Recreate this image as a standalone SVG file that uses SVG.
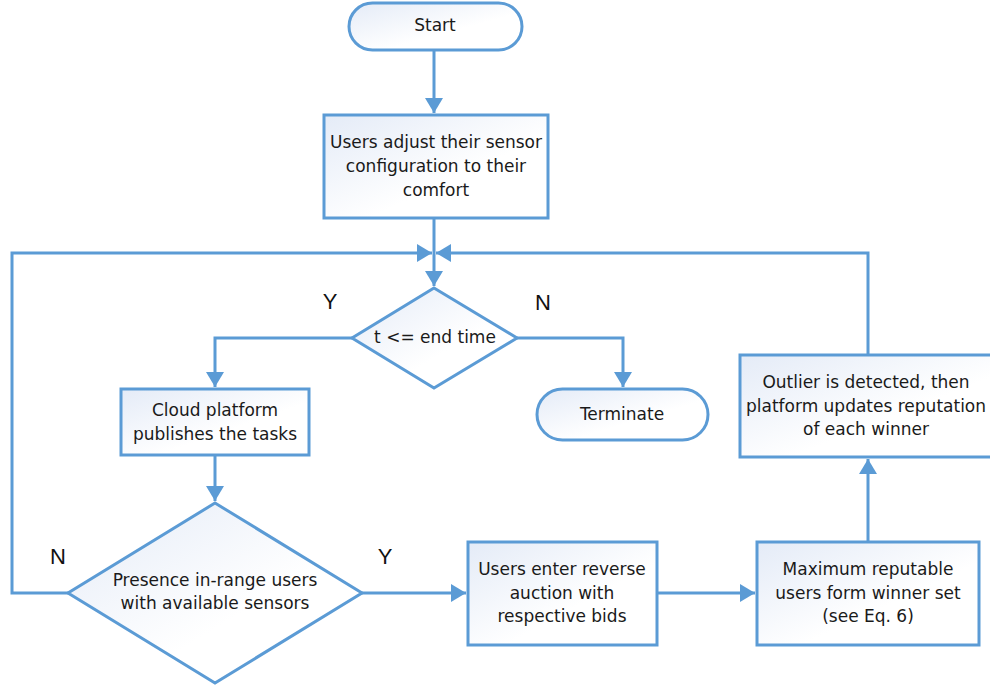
<svg xmlns="http://www.w3.org/2000/svg" width="990" height="685" viewBox="0 0 990 685">
<style>
.s{fill:url(#g);stroke:#5b9bd5;stroke-width:3}
.c{fill:none;stroke:#5b9bd5;stroke-width:3}
.t{font-family:"DejaVu Sans",Tahoma,sans-serif;font-size:17px;fill:#1a1a1a;text-anchor:middle}
.l{font-family:"Liberation Sans",Arial,sans-serif;font-size:22px;fill:#111;text-anchor:middle}
</style>
<defs>
<linearGradient id="g" x1="0" y1="0" x2="1" y2="1">
<stop offset="0" stop-color="#e4ebf7"/>
<stop offset="0.6" stop-color="#ffffff"/>
</linearGradient>
<marker id="a" markerWidth="6" markerHeight="6" refX="5" refY="3" orient="auto" markerUnits="strokeWidth">
<path d="M0,0 L5,3 L0,6 Z" fill="#5b9bd5"/>
</marker>
</defs>
<g id="connectors">
<path class="c" d="M434,50 V113" marker-end="url(#a)"/>
<path class="c" d="M434,218 V286" marker-end="url(#a)"/>
<path class="c" d="M68,593 H12 V253 H432" marker-end="url(#a)"/>
<path class="c" d="M868,355 V253 H436" marker-end="url(#a)"/>
<path class="c" d="M352,338 H215 V387" marker-end="url(#a)"/>
<path class="c" d="M517,338 H623 V387" marker-end="url(#a)"/>
<path class="c" d="M215,455 V501" marker-end="url(#a)"/>
<path class="c" d="M362,593 H466" marker-end="url(#a)"/>
<path class="c" d="M657,593 H755" marker-end="url(#a)"/>
<path class="c" d="M868,543 V459" marker-end="url(#a)"/>
</g>
<g id="labels">
<text class="l" x="330" y="309">Y</text>
<text class="l" x="543" y="310">N</text>
<text class="l" x="58" y="564">N</text>
<text class="l" x="385" y="564">Y</text>
</g>
<g id="start">
<rect class="s" x="349" y="3" width="173" height="47" rx="23.5"/>
<text class="t" x="435" y="31">Start</text>
</g>
<g id="adjust">
<rect class="s" x="324" y="115" width="224" height="103"/>
<text class="t" x="436" y="148">Users adjust their sensor</text>
<text class="t" x="436" y="172">configuration to their</text>
<text class="t" x="436" y="196">comfort</text>
</g>
<g id="check-time">
<polygon class="s" points="434,288 517,338 434,388 352,338"/>
<text class="t" x="435" y="343">t &lt;= end time</text>
</g>
<g id="terminate">
<rect class="s" x="537" y="389" width="171" height="51" rx="25.5"/>
<text class="t" x="622" y="420">Terminate</text>
</g>
<g id="publish">
<rect class="s" x="121" y="389" width="188" height="66"/>
<text class="t" x="215" y="416">Cloud platform</text>
<text class="t" x="215" y="440">publishes the tasks</text>
</g>
<g id="presence">
<polygon class="s" points="215,503 362,593 215,683 68,593"/>
<text class="t" x="215" y="586">Presence in-range users</text>
<text class="t" x="215" y="609">with available sensors</text>
</g>
<g id="auction">
<rect class="s" x="468" y="542" width="189" height="103"/>
<text class="t" x="562" y="575">Users enter reverse</text>
<text class="t" x="562" y="599">auction with</text>
<text class="t" x="562" y="622">respective bids</text>
</g>
<g id="winner">
<rect class="s" x="757" y="542" width="222" height="103"/>
<text class="t" x="868" y="575">Maximum reputable</text>
<text class="t" x="868" y="599">users form winner set</text>
<text class="t" x="868" y="622">(see Eq. 6)</text>
</g>
<g id="outlier">
<rect class="s" x="740" y="355" width="256" height="102"/>
<text class="t" x="866" y="388">Outlier is detected, then</text>
<text class="t" x="866" y="412">platform updates reputation</text>
<text class="t" x="866" y="435">of each winner</text>
</g>
</svg>
